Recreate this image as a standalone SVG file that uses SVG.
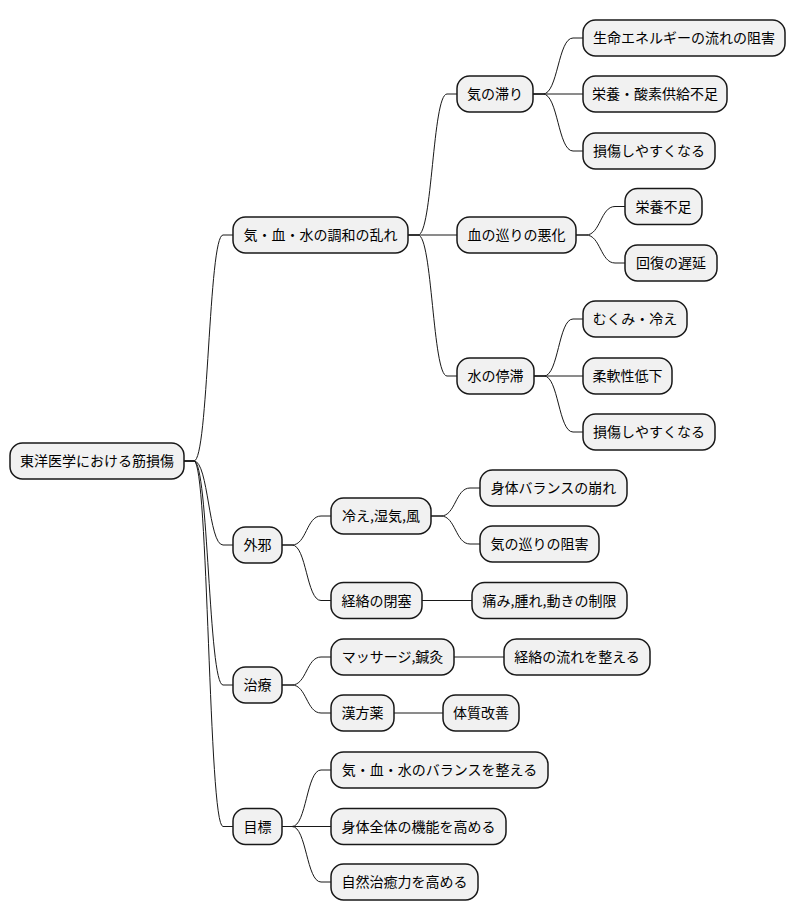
<svg xmlns="http://www.w3.org/2000/svg" width="796" height="921" viewBox="0 0 796 921">
<style>
rect{fill:#F1F1F1;stroke:#181818;stroke-width:1.5}
text{font-family:"Noto Sans CJK JP","Noto Sans",sans-serif;font-size:14px;fill:#000;text-anchor:middle}
#connectors path{fill:none;stroke:#181818;stroke-width:1}
</style>
<rect x="0" y="0" width="796" height="921" style="fill:#fff;stroke:none"/>
<g id="connectors">
<!-- root -> level1 -->
<path d="M184,461 L194,461 C208.5,461 208.5,235 223,235 L233,235"/>
<path d="M184,461 L194,461 C208.5,461 208.5,545 223,545 L233,545"/>
<path d="M184,461 L194,461 C208.5,461 208.5,685 223,685 L233,685"/>
<path d="M184,461 L194,461 C208.5,461 208.5,826.5 223,826.5 L233,826.5"/>
<!-- A -> level2 -->
<path d="M408,235 L418,235 C432.5,235 432.5,94 447,94 L457,94"/>
<path d="M408,235 L457,235"/>
<path d="M408,235 L418,235 C432.5,235 432.5,376 447,376 L457,376"/>
<!-- A1 -> leaves -->
<path d="M533,94 L543,94 C558,94 558,38 573,38 L583,38"/>
<path d="M533,94 L583,94"/>
<path d="M533,94 L543,94 C558,94 558,151 573,151 L583,151"/>
<!-- A2 -> leaves -->
<path d="M576,235 L586,235 C600.5,235 600.5,206.5 615,206.5 L625,206.5"/>
<path d="M576,235 L586,235 C600.5,235 600.5,263 615,263 L625,263"/>
<!-- A3 -> leaves -->
<path d="M534,376 L544,376 C558.5,376 558.5,319 573,319 L583,319"/>
<path d="M534,376 L583,376"/>
<path d="M534,376 L544,376 C558.5,376 558.5,432 573,432 L583,432"/>
<!-- B -> children -->
<path d="M282,545 L292,545 C306.5,545 306.5,516 321,516 L331,516"/>
<path d="M282,545 L292,545 C306.5,545 306.5,600.5 321,600.5 L331,600.5"/>
<path d="M431,516 L441,516 C455.5,516 455.5,488 470,488 L480,488"/>
<path d="M431,516 L441,516 C455.5,516 455.5,544 470,544 L480,544"/>
<path d="M422,600.5 L472,600.5"/>
<!-- C -> children -->
<path d="M282,685 L292,685 C306.5,685 306.5,657 321,657 L331,657"/>
<path d="M282,685 L292,685 C306.5,685 306.5,713 321,713 L331,713"/>
<path d="M454,657 L504,657"/>
<path d="M394,713 L443,713"/>
<!-- D -> children -->
<path d="M282,826.5 L292,826.5 C306.5,826.5 306.5,770 321,770 L331,770"/>
<path d="M282,826.5 L331,826.5"/>
<path d="M282,826.5 L292,826.5 C306.5,826.5 306.5,882 321,882 L331,882"/>
</g>
<g id="root"><rect x="10" y="443" width="174" height="36" rx="12.5"/><text x="97" y="466">東洋医学における筋損傷</text></g>
<g id="n-a"><rect x="233" y="217" width="175" height="36" rx="12.5"/><text x="320.5" y="240">気・血・水の調和の乱れ</text></g>
<g id="n-a1"><rect x="457" y="76" width="76" height="36" rx="12.5"/><text x="495" y="99">気の滞り</text></g>
<g id="n-a1-1"><rect x="583" y="20" width="202" height="36" rx="12.5"/><text x="684" y="43">生命エネルギーの流れの阻害</text></g>
<g id="n-a1-2"><rect x="583" y="76" width="144" height="36" rx="12.5"/><text x="655" y="99">栄養・酸素供給不足</text></g>
<g id="n-a1-3"><rect x="583" y="133" width="132" height="36" rx="12.5"/><text x="649" y="156">損傷しやすくなる</text></g>
<g id="n-a2"><rect x="457" y="217" width="119" height="36" rx="12.5"/><text x="516.5" y="240">血の巡りの悪化</text></g>
<g id="n-a2-1"><rect x="625" y="188.5" width="77" height="36" rx="12.5"/><text x="663.5" y="211.5">栄養不足</text></g>
<g id="n-a2-2"><rect x="625" y="245" width="92" height="36" rx="12.5"/><text x="671" y="268">回復の遅延</text></g>
<g id="n-a3"><rect x="457" y="358" width="77" height="36" rx="12.5"/><text x="495.5" y="381">水の停滞</text></g>
<g id="n-a3-1"><rect x="583" y="301" width="104" height="36" rx="12.5"/><text x="635" y="324">むくみ・冷え</text></g>
<g id="n-a3-2"><rect x="583" y="358" width="89" height="36" rx="12.5"/><text x="627.5" y="381">柔軟性低下</text></g>
<g id="n-a3-3"><rect x="583" y="414" width="132" height="36" rx="12.5"/><text x="649" y="437">損傷しやすくなる</text></g>
<g id="n-b"><rect x="233" y="527" width="49" height="36" rx="12.5"/><text x="257.5" y="550">外邪</text></g>
<g id="n-b1"><rect x="331" y="498" width="100" height="36" rx="12.5"/><text x="381" y="521">冷え,湿気,風</text></g>
<g id="n-b1-1"><rect x="480" y="470" width="147" height="36" rx="12.5"/><text x="553.5" y="493">身体バランスの崩れ</text></g>
<g id="n-b1-2"><rect x="480" y="526" width="119" height="36" rx="12.5"/><text x="539.5" y="549">気の巡りの阻害</text></g>
<g id="n-b2"><rect x="331" y="582.5" width="91" height="36" rx="12.5"/><text x="376.5" y="605.5">経絡の閉塞</text></g>
<g id="n-b2-1"><rect x="472" y="582.5" width="155" height="36" rx="12.5"/><text x="549.5" y="605.5">痛み,腫れ,動きの制限</text></g>
<g id="n-c"><rect x="233" y="667" width="49" height="36" rx="12.5"/><text x="257.5" y="690">治療</text></g>
<g id="n-c1"><rect x="331" y="639" width="123" height="36" rx="12.5"/><text x="392.5" y="662">マッサージ,鍼灸</text></g>
<g id="n-c1-1"><rect x="504" y="639" width="146" height="36" rx="12.5"/><text x="577" y="662">経絡の流れを整える</text></g>
<g id="n-c2"><rect x="331" y="695" width="63" height="36" rx="12.5"/><text x="362.5" y="718">漢方薬</text></g>
<g id="n-c2-1"><rect x="443" y="695" width="76" height="36" rx="12.5"/><text x="481" y="718">体質改善</text></g>
<g id="n-d"><rect x="233" y="808.5" width="49" height="36" rx="12.5"/><text x="257.5" y="831.5">目標</text></g>
<g id="n-d1"><rect x="331" y="752" width="217" height="36" rx="12.5"/><text x="439.5" y="775">気・血・水のバランスを整える</text></g>
<g id="n-d2"><rect x="331" y="808.5" width="175" height="36" rx="12.5"/><text x="418.5" y="831.5">身体全体の機能を高める</text></g>
<g id="n-d3"><rect x="331" y="864" width="147" height="36" rx="12.5"/><text x="404.5" y="887">自然治癒力を高める</text></g>
</svg>
